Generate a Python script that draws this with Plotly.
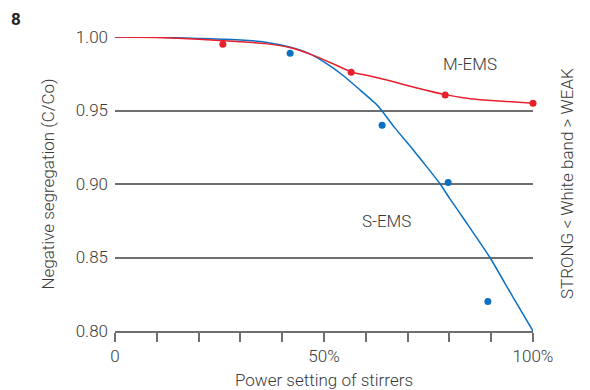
import plotly.graph_objects as go

# Stirrer power setting (% of maximum)
m_curve_x = [0, 10, 20, 30, 36, 42, 47, 52, 56.7, 61, 66, 72, 79, 85, 90, 100]
m_curve_y = [1.000, 0.9997, 0.9985, 0.9968, 0.9955, 0.9927, 0.988, 0.982, 0.976, 0.9735, 0.970, 0.9655, 0.9608, 0.958, 0.9568, 0.955]
s_curve_x = [0, 10, 20, 30, 36, 42, 47, 50, 54.5, 58.6, 62.6, 63.8, 67, 71.4, 74.5, 77.8, 80.1, 84, 89.7, 95, 100]
s_curve_y = [1.000, 0.9998, 0.999, 0.998, 0.9965, 0.993, 0.988, 0.983, 0.974, 0.964, 0.954, 0.950, 0.938, 0.923, 0.912, 0.900, 0.890, 0.874, 0.850, 0.824, 0.800]

# Measured points
m_pts_x = [25.8, 56.5, 79.0, 100.0]
m_pts_y = [0.995, 0.976, 0.9605, 0.955]
s_pts_x = [41.9, 63.9, 79.7, 89.2]
s_pts_y = [0.989, 0.940, 0.901, 0.820]

x_ticks = [0, 10, 20, 30, 40, 50, 60, 70, 80, 90, 100]
x_tick_text = ["0", "", "", "", "", "50%", "", "", "", "", "100%"]
y_ticks = [0.80, 0.85, 0.90, 0.95, 1.00]
y_tick_text = ["0.80", "0.85", "0.90", "0.95", "1.00"]

RED = "#e8202e"
BLUE = "#0a70c2"
TEXT = "#3a3a3a"
GRID = "#6f6f6f"
FONT = "Roboto"
FS = 17
W = 300

def tf(size=FS, weight=W, color=TEXT):
    return dict(size=size, family=FONT, color=color, weight=weight)

fig = go.Figure()
fig.add_trace(go.Scatter(x=s_curve_x, y=s_curve_y, mode="lines", line=dict(color=BLUE, width=1.5, shape="spline", smoothing=0.5), hoverinfo="skip"))
fig.add_trace(go.Scatter(x=m_curve_x, y=m_curve_y, mode="lines", line=dict(color=RED, width=1.5, shape="spline", smoothing=0.5), hoverinfo="skip"))
fig.add_trace(go.Scatter(x=m_pts_x, y=m_pts_y, mode="markers", marker=dict(color=RED, size=7), cliponaxis=False))
fig.add_trace(go.Scatter(x=s_pts_x, y=s_pts_y, mode="markers", marker=dict(color=BLUE, size=7), cliponaxis=False))

fig.update_layout(
    width=590, height=390,
    margin=dict(l=115, r=57, t=37, b=59),
    paper_bgcolor="white", plot_bgcolor="white",
    showlegend=False,
    font=tf(),
    xaxis=dict(
        range=[0, 100], tickvals=x_ticks, ticktext=x_tick_text,
        showgrid=False, zeroline=False, automargin=False,
        showline=True, linecolor=GRID, linewidth=1.5,
        ticks="outside", ticklen=9, tickwidth=1.5, tickcolor=GRID,
        tickfont=tf(),
        title=dict(text="Power setting of stirrers", font=tf(), standoff=10),
    ),
    yaxis=dict(
        range=[0.80, 1.00], tickvals=y_ticks, ticktext=y_tick_text,
        showgrid=True, gridcolor=GRID, gridwidth=1.5, zeroline=False, automargin=False,
        showline=False, ticks="", ticklabelstandoff=6,
        tickfont=tf(),
        title=dict(text="Negative segregation (C/Co)", font=tf(), standoff=16),
    ),
    annotations=[
        dict(text="<b>8</b>", x=-0.253, y=1.0, yshift=30, xref="paper", yref="paper", showarrow=False,
             font=dict(size=17, color="#222", family=FONT), xanchor="left", yanchor="top"),
        dict(text="M-EMS", x=85, y=0.9816, xref="x", yref="y", showarrow=False, font=tf()),
        dict(text="S-EMS", x=65, y=0.8745, xref="x", yref="y", showarrow=False, font=tf()),
        dict(text="STRONG < White band > WEAK", x=1.0, y=0.5, xref="paper", yref="paper", xshift=46,
             showarrow=False, textangle=-90, font=tf()),
    ],
)

fig.write_html("out.html")
